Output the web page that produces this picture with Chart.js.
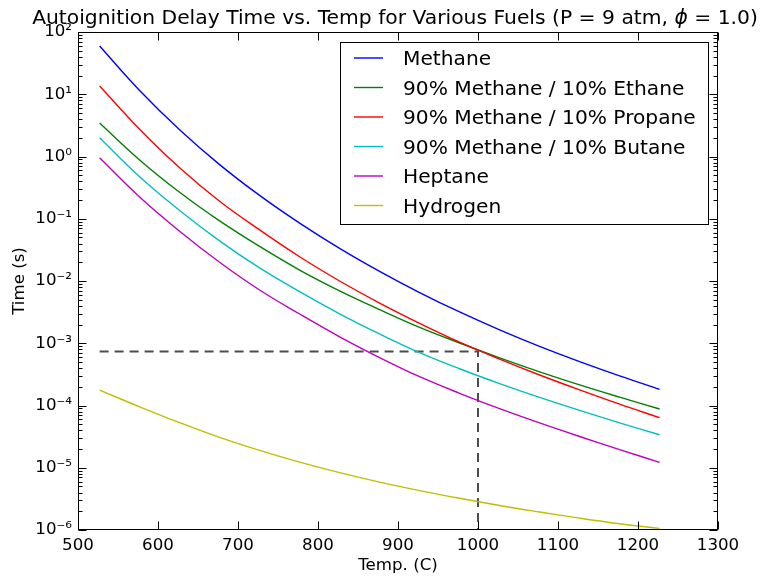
<!DOCTYPE html>
<html><head><meta charset="utf-8">
<script src="https://cdn.jsdelivr.net/npm/chart.js@4/dist/chart.umd.min.js"></script>
<style>html,body{margin:0;padding:0;background:#fff;}#wrap{width:762px;height:577px;}</style>
</head><body><div id="wrap"><canvas id="c" width="762" height="577"></canvas></div>
<script>
// ---- data ----
const temperatures = [527, 577, 627, 677, 727, 777, 827, 877, 927, 977, 1027, 1077, 1127, 1177, 1227];
const methane   = [59.6, 11.5, 2.69, 0.741, 0.237, 0.0851, 0.0335, 0.0143, 0.00653, 0.00318, 0.00164, 0.000889, 0.000506, 0.000299, 0.000182];
const ethane90  = [3.45, 0.881, 0.266, 0.0923, 0.0359, 0.0150, 0.00695, 0.00347, 0.00180, 0.00101, 0.000582, 0.000347, 0.000214, 0.000136, 0.0000879];
const propane90 = [13.6, 2.75, 0.661, 0.191, 0.0661, 0.0245, 0.0100, 0.00442, 0.00209, 0.00104, 0.000556, 0.000309, 0.000178, 0.000105, 0.0000637];
const butane90  = [2.0, 0.473, 0.136, 0.0442, 0.0162, 0.00673, 0.00297, 0.00141, 0.000708, 0.000389, 0.000225, 0.000135, 0.0000836, 0.0000527, 0.0000339];
const heptane   = [0.955, 0.224, 0.0631, 0.0200, 0.00716, 0.00295, 0.00127, 0.000589, 0.000290, 0.000157, 0.0000891, 0.0000525, 0.0000318, 0.0000196, 0.0000122];
const hydrogen  = [1.77e-4, 9.53e-5, 5.30e-5, 3.08e-5, 1.90e-5, 1.23e-5, 8.34e-6, 5.88e-6, 4.30e-6, 3.23e-6, 2.48e-6, 1.95e-6, 1.55e-6, 1.26e-6, 1.06e-6];
const seriesLabels = ['Methane', '90% Methane / 10% Ethane', '90% Methane / 10% Propane', '90% Methane / 10% Butane', 'Heptane', 'Hydrogen'];
const refLineTemp = [527, 1000, 1000];
const refLineTime = [7.4e-4, 7.4e-4, 1e-6];
const xTickValues = [500, 600, 700, 800, 900, 1000, 1100, 1200, 1300];
const yTickExponents = [-6, -5, -4, -3, -2, -1, 0, 1, 2];
const titleParts = ['Autoignition Delay Time vs. Temp for Various Fuels (P = 9 atm, ', '\u03D5', ' = 1.0)'];
const xAxisTitle = 'Temp. (C)';
const yAxisTitle = 'Time (s)';

// ---- styles ----
const FONT = '"DejaVu Sans", "Bitstream Vera Sans", sans-serif';
const colors = ['#0000ff', '#008000', '#ff0000', '#00bfbf', '#bf00bf', '#bfbf00'];
const allSeries = [methane, ethane90, propane90, butane90, heptane, hydrogen];
const SUP = {'0':'\u2070','1':'\u00B9','2':'\u00B2','3':'\u00B3','4':'\u2074','5':'\u2075','6':'\u2076','7':'\u2077','8':'\u2078','9':'\u2079','-':'\u207B'};

const datasets = allSeries.map((vals, i) => ({
  label: seriesLabels[i],
  data: temperatures.map((t, j) => ({x: t, y: vals[j]})),
  borderColor: colors[i],
  backgroundColor: colors[i],
  borderWidth: 1.4,
  pointRadius: 0,
  fill: false,
  tension: 0.4,
  order: 10 - i
}));
datasets.push({
  label: 'ref',
  data: refLineTemp.map((t, j) => ({x: t, y: refLineTime[j]})),
  borderColor: 'rgba(0,0,0,0.7)',
  borderWidth: 2,
  borderDash: [9, 6],
  pointRadius: 0,
  fill: false,
  tension: 0,
  order: 20
});

const framePlugin = {
  id: 'frame',
  afterDatasetsDraw(chart) {
    const ctx = chart.ctx, a = chart.chartArea;
    const xs = chart.scales.x, ys = chart.scales.y;
    ctx.save();
    ctx.strokeStyle = '#000';
    ctx.lineWidth = 1;
    const L = Math.round(a.left) + 0.5, R = Math.round(a.right) - 0.5, T = Math.round(a.top) + 0.5, B = Math.round(a.bottom) - 0.5;
    ctx.beginPath();
    xTickValues.forEach(v => {
      const px = Math.round(xs.getPixelForValue(v)) + 0.5;
      ctx.moveTo(px, B); ctx.lineTo(px, B - 8);
      ctx.moveTo(px, T); ctx.lineTo(px, T + 8);
    });
    yTickExponents.forEach((e, k) => {
      const py = Math.round(ys.getPixelForValue(Math.pow(10, e))) + 0.5;
      ctx.moveTo(L, py); ctx.lineTo(L + 8, py);
      ctx.moveTo(R, py); ctx.lineTo(R - 8, py);
      if (k < yTickExponents.length - 1) {
        for (let m = 2; m <= 9; m++) {
          const pm = Math.round(ys.getPixelForValue(m * Math.pow(10, e))) + 0.5;
          ctx.moveTo(L, pm); ctx.lineTo(L + 4, pm);
          ctx.moveTo(R, pm); ctx.lineTo(R - 4, pm);
        }
      }
    });
    ctx.stroke();
    ctx.strokeRect(L, T, R - L, B - T);
    ctx.restore();
  },
  afterDraw(chart) {
    const ctx = chart.ctx, a = chart.chartArea;
    ctx.save();
    // title
    ctx.fillStyle = '#000';
    ctx.textBaseline = 'alphabetic';
    const fN = '20.3px ' + FONT, fI = 'italic 20.3px ' + FONT;
    const widths = titleParts.map((p, i) => { ctx.font = i === 1 ? fI : fN; return ctx.measureText(p).width; });
    const total = widths.reduce((s, w) => s + w, 0);
    let x = (a.left + a.right) / 2 - 3 - total / 2;
    titleParts.forEach((p, i) => {
      ctx.font = i === 1 ? fI : fN;
      ctx.fillText(p, x, 24);
      x += widths[i];
    });
    // legend
    const bx = 340.5, by = 42.5, bw = 368, bh = 182;
    ctx.fillStyle = '#fff';
    ctx.fillRect(bx, by, bw, bh);
    ctx.strokeStyle = '#000';
    ctx.lineWidth = 1;
    ctx.strokeRect(bx, by, bw, bh);
    ctx.font = '20.2px ' + FONT;
    chart.data.datasets.slice(0, seriesLabels.length).forEach((ds, i) => {
      const ly = 58 + i * 29.5;
      ctx.strokeStyle = ds.borderColor;
      ctx.lineWidth = ds.borderWidth;
      ctx.beginPath();
      ctx.moveTo(354, ly); ctx.lineTo(383, ly);
      ctx.stroke();
      ctx.fillStyle = '#000';
      ctx.fillText(ds.label, 403, ly + 7);
    });
    ctx.restore();
  }
};

new Chart(document.getElementById('c'), {
  type: 'line',
  data: { datasets },
  plugins: [framePlugin],
  options: {
    responsive: false,
    animation: false,
    devicePixelRatio: 1,
    layout: { padding: { top: 32, right: 44, bottom: 0, left: 0 } },
    plugins: { legend: { display: false }, title: { display: false }, tooltip: { enabled: false } },
    scales: {
      x: {
        type: 'linear', min: 500, max: 1300,
        afterBuildTicks: s => { s.ticks = xTickValues.map(v => ({value: v})); },
        afterFit: s => { s.height = 47; },
        grid: { display: false, drawTicks: false },
        border: { display: false },
        ticks: { color: '#000', font: { family: FONT, size: 16.67 }, padding: 6, maxRotation: 0, autoSkip: false,
          callback: v => String(v) },
        title: { display: true, text: xAxisTitle, color: '#000', font: { family: FONT, size: 16.67 }, padding: { top: 0, bottom: 1 } }
      },
      y: {
        type: 'logarithmic', min: 1e-6, max: 1e2,
        afterBuildTicks: s => { s.ticks = yTickExponents.map(e => ({value: Math.pow(10, e), major: true})); },
        afterFit: s => { s.width = 78; },
        grid: { display: false, drawTicks: false },
        border: { display: false },
        ticks: {
          color: '#000', font: { family: FONT, size: 16.67 }, padding: 6, autoSkip: false,
          callback: v => '10' + String(Math.round(Math.log10(v))).split('').map(c => SUP[c]).join('')
        },
        title: { display: true, text: yAxisTitle, color: '#000', font: { family: FONT, size: 16.67 }, padding: { top: 10, bottom: 0 } }
      }
    }
  }
});
</script></body></html>
